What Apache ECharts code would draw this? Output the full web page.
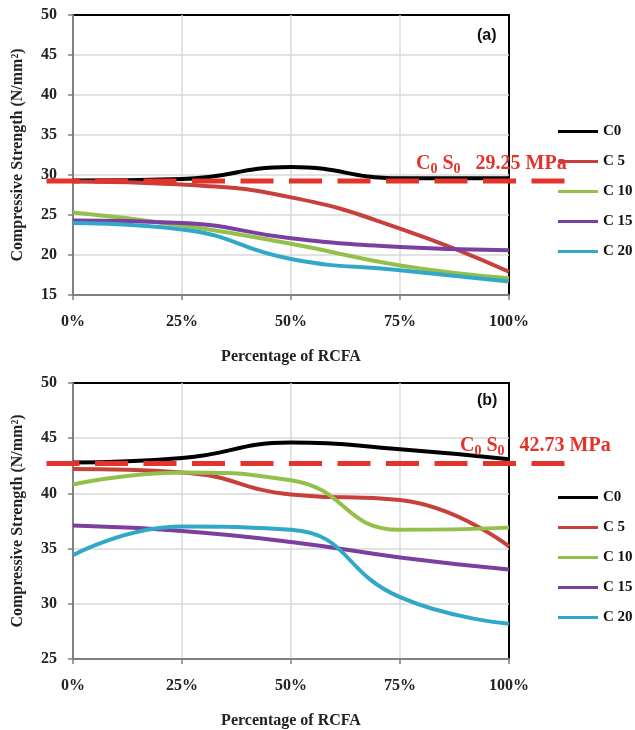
<!DOCTYPE html>
<html>
<head>
<meta charset="utf-8">
<script src="https://cdn.jsdelivr.net/npm/echarts@6/dist/echarts.min.js"></script>
<style>
html,body{margin:0;padding:0;background:#fff;}
#chart{width:635px;height:730px;}
</style>
</head>
<body>
<div id="chart"></div>
<script>
// ---------- data ----------
const categories = ['0%', '25%', '50%', '75%', '100%'];
const seriesNames = ['C0', 'C 5', 'C 10', 'C 15', 'C 20'];
const seriesColors = ['#000000', '#c7403b', '#93c04a', '#7b3f9f', '#31a8c8'];

// (a) panel
const a_C0  = [29.3, 29.5, 31.0, 29.6, 29.6];
const a_C5  = [29.2, 28.8, 27.2, 23.3, 17.9];
const a_C10 = [25.3, 23.7, 21.4, 18.7, 17.1];
const a_C15 = [24.3, 24.0, 22.1, 21.0, 20.6];
const a_C20 = [24.0, 23.2, 19.5, 18.1, 16.7];
const a_ref = 29.25;

// (b) panel
const b_C0  = [42.8, 43.2, 44.6, 44.0, 43.1];
const b_C5  = [42.2, 41.9, 39.9, 39.4, 35.2];
const b_C10 = [40.8, 41.9, 41.2, 36.7, 36.9];
const b_C15 = [37.1, 36.6, 35.6, 34.2, 33.1];
const b_C20 = [34.4, 37.0, 36.7, 30.6, 28.2];
const b_ref = 42.73;

const a_yRange = [15, 50];
const b_yRange = [25, 50];
const yInterval = 5;

const xTitle = 'Percentage of RCFA';
const yTitle = 'Compressive Strength (N/mm\u00B2)';

// ---------- styles ----------
const SERIF = 'Liberation Serif';
const RED = '#e2342b';
const AXIS_GRAY = '#808080';
const GRID_GRAY = '#d9d9d9';

function catX(gridIndex) {
  return {
    type: 'category', gridIndex, data: categories, boundaryGap: false,
    axisLine: { show: true, lineStyle: { color: AXIS_GRAY, width: 2 } },
    axisTick: { show: true, length: 5, lineStyle: { color: AXIS_GRAY, width: 1.5 } },
    axisLabel: { fontFamily: SERIF, fontWeight: 'bold', fontSize: 16, color: '#222', margin: 19 },
    splitLine: { show: true, showMinLine: false, showMaxLine: false, lineStyle: { color: GRID_GRAY, width: 1.5 } },
    name: xTitle, nameLocation: 'middle', nameGap: 54,
    nameTextStyle: { fontFamily: SERIF, fontWeight: 'bold', fontSize: 16, color: '#222' }
  };
}
function valY(gridIndex, range) {
  return {
    type: 'value', gridIndex, min: range[0], max: range[1], interval: yInterval,
    axisLine: { show: true, lineStyle: { color: AXIS_GRAY, width: 2 } },
    axisTick: { show: true, length: 5, lineStyle: { color: AXIS_GRAY, width: 1.5 } },
    axisLabel: { fontFamily: SERIF, fontWeight: 'bold', fontSize: 16, color: '#222', margin: 16 },
    splitLine: { show: true, showMinLine: false, showMaxLine: false, lineStyle: { color: GRID_GRAY, width: 1.5 } },
    name: yTitle, nameLocation: 'middle', nameGap: 47, nameRotate: 90,
    nameTextStyle: { fontFamily: SERIF, fontWeight: 'bold', fontSize: 16, color: '#222' }
  };
}
function hiddenX(gridIndex) {
  return { type: 'value', gridIndex, min: 0, max: 1, show: false };
}
function hiddenY(gridIndex, range) {
  return { type: 'value', gridIndex, min: range[0], max: range[1], show: false };
}

function dataSeries(values, i, axisIndex) {
  return {
    type: 'line', name: seriesNames[i], xAxisIndex: axisIndex, yAxisIndex: axisIndex,
    data: values, smooth: 0.5, symbol: 'none',
    lineStyle: { width: 4, color: seriesColors[i] },
    itemStyle: { color: seriesColors[i] }, z: 3
  };
}
function refSeries(value, axisIndex) {
  return {
    type: 'line', xAxisIndex: axisIndex, yAxisIndex: axisIndex,
    data: [[0, value], [1, value]], symbol: 'none', silent: true,
    lineStyle: { width: 5, color: RED, type: [33, 15.5], dashOffset: 40 },
    z: 5
  };
}
function refLabel(value, left, top) {
  return {
    text: '{m|C}{s|0}{m| S}{s|0}{m|   ' + value.toFixed(2) + ' MPa}',
    left, top, padding: 0,
    textStyle: {
      rich: {
        m: { fontFamily: SERIF, fontWeight: 'bold', fontSize: 20, color: RED, lineHeight: 20, verticalAlign: 'top' },
        s: { fontFamily: SERIF, fontWeight: 'bold', fontSize: 14, color: RED, lineHeight: 14, verticalAlign: 'top', padding: [8, 0, 0, 0] }
      }
    }
  };
}
function legendAt(top) {
  return {
    data: seriesNames, orient: 'vertical', left: 558, top, padding: 0,
    icon: 'rect', itemWidth: 40, itemHeight: 3, itemGap: 15,
    selectedMode: false,
    textStyle: { fontFamily: SERIF, fontWeight: 'bold', fontSize: 15, color: '#111', lineHeight: 15 }
  };
}

const gridA = { left: 73, top: 15, width: 436, height: 280, show: true, borderColor: '#000', borderWidth: 2 };
const gridB = { left: 73, top: 383, width: 436, height: 277, show: true, borderColor: '#000', borderWidth: 2 };
const gridA2 = { left: 38, top: 15, width: 527, height: 280 };
const gridB2 = { left: 38, top: 383, width: 527, height: 277 };

const option = {
  animation: false,
  backgroundColor: '#fff',
  grid: [gridA, gridB, gridA2, gridB2],
  xAxis: [catX(0), catX(1), hiddenX(2), hiddenX(3)],
  yAxis: [valY(0, a_yRange), valY(1, b_yRange), hiddenY(2, a_yRange), hiddenY(3, b_yRange)],
  legend: [legendAt(124), legendAt(490)],
  title: [
    refLabel(a_ref, 416, 154),
    refLabel(b_ref, 460, 436),
    { text: '(a)', left: 477, top: 28, padding: 0, textStyle: { fontFamily: 'Liberation Sans', fontWeight: 'bold', fontSize: 16, color: '#111' } },
    { text: '(b)', left: 477, top: 393, padding: 0, textStyle: { fontFamily: 'Liberation Sans', fontWeight: 'bold', fontSize: 16, color: '#111' } }
  ],
  series: [
    dataSeries(a_C0, 0, 0), dataSeries(a_C5, 1, 0), dataSeries(a_C10, 2, 0), dataSeries(a_C15, 3, 0), dataSeries(a_C20, 4, 0),
    dataSeries(b_C0, 0, 1), dataSeries(b_C5, 1, 1), dataSeries(b_C10, 2, 1), dataSeries(b_C15, 3, 1), dataSeries(b_C20, 4, 1),
    refSeries(a_ref, 2), refSeries(b_ref, 3)
  ]
};

const chart = echarts.init(document.getElementById('chart'), null, { renderer: 'canvas' });
chart.setOption(option);
</script>
</body>
</html>
